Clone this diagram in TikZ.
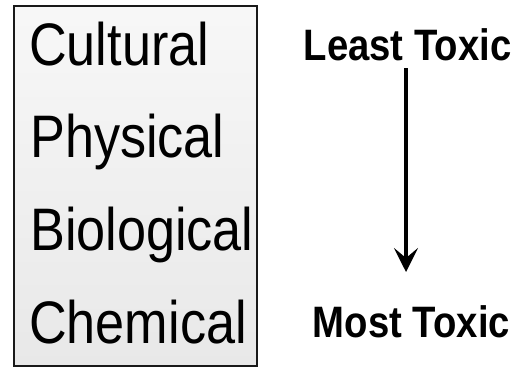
\documentclass[tikz,border=0pt]{standalone}
\usepackage{fontspec}
\setmainfont{Liberation Sans}
\newfontfamily\narrowfont[FakeStretch=0.87]{Liberation Sans}
\usetikzlibrary{arrows.meta}
\begin{document}
\begin{tikzpicture}[x=1pt,y=-1pt,
  item/.style={anchor=base west,inner sep=0pt,font=\narrowfont\fontsize{60}{60}\selectfont},
  label/.style={anchor=base,inner sep=0pt,font=\narrowfont\bfseries\fontsize{44}{44}\selectfont},
  pointer/.style={line width=3.5pt,-{Stealth[length=24pt,width=24pt,inset=10pt]}}]
\useasboundingbox (0,0) rectangle (518,368);
\node[draw=black!90,line width=2pt,top color=black!3,bottom color=black!9,
      minimum width=243pt,minimum height=360pt,anchor=north west,inner sep=0pt] (box) at (13,5) {};
\node[item] (cult) at (29,65) {Cultural};
\node[item] (phys) at (30,157) {Physical};
\node[item] (bio) at (30,250) {Biological};
\node[item] (chem) at (29,343) {Chemical};
\node[label] (least) at (407.5,60) {Least Toxic};
\node[label] (most) at (411.5,337) {Most Toxic};
\coordinate (a1) at (406,68);
\coordinate (a2) at (406,272);
\draw[pointer] (a1) -- (a2);
\end{tikzpicture}
\end{document}
